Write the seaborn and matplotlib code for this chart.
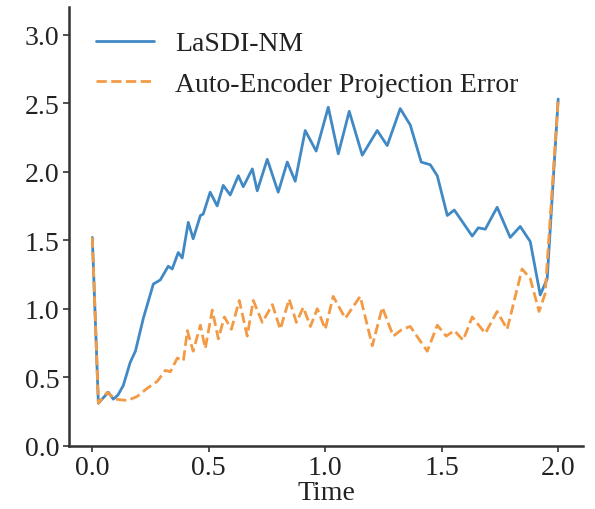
import matplotlib
matplotlib.use("Agg")
import matplotlib.pyplot as plt
import seaborn as sns
import numpy as np

# LaSDI-NM curve
t_nm = [0.0, 0.026, 0.047, 0.069, 0.09, 0.11, 0.133, 0.163, 0.185, 0.219, 0.262, 0.292,
        0.326, 0.343, 0.369, 0.386, 0.412, 0.433, 0.464, 0.476, 0.506, 0.536, 0.562, 0.592,
        0.627, 0.648, 0.687, 0.708, 0.751, 0.798, 0.837, 0.871, 0.914, 0.961, 1.013, 1.056,
        1.103, 1.159, 1.223, 1.266, 1.322, 1.365, 1.412, 1.451, 1.481, 1.524, 1.554, 1.631,
        1.657, 1.687, 1.738, 1.794, 1.837, 1.88, 1.923, 1.953, 2.0]
v_nm = [1.52, 0.31, 0.35, 0.39, 0.34, 0.37, 0.44, 0.61, 0.69, 0.93, 1.18, 1.21,
        1.31, 1.29, 1.41, 1.37, 1.63, 1.51, 1.68, 1.69, 1.85, 1.75, 1.90, 1.83,
        1.97, 1.89, 2.02, 1.86, 2.09, 1.85, 2.07, 1.93, 2.30, 2.15, 2.47, 2.13,
        2.44, 2.12, 2.30, 2.19, 2.46, 2.34, 2.07, 2.05, 1.97, 1.68, 1.72, 1.53,
        1.59, 1.58, 1.74, 1.52, 1.60, 1.49, 1.10, 1.22, 2.53]

# Auto-Encoder projection error curve
t_ae = [0.0, 0.026, 0.064, 0.099, 0.15, 0.193, 0.236, 0.279, 0.313, 0.335, 0.365, 0.391,
        0.408, 0.433, 0.464, 0.485, 0.515, 0.541, 0.567, 0.597, 0.631, 0.665, 0.691, 0.730,
        0.773, 0.807, 0.845, 0.876, 0.906, 0.936, 0.966, 1.0, 1.034, 1.086, 1.150, 1.202,
        1.245, 1.292, 1.330, 1.365, 1.438, 1.481, 1.519, 1.554, 1.592, 1.631, 1.687, 1.738,
        1.781, 1.845, 1.880, 1.918, 1.944, 2.0]
v_ae = [1.52, 0.31, 0.39, 0.34, 0.33, 0.36, 0.42, 0.47, 0.55, 0.54, 0.64, 0.62,
        0.84, 0.69, 0.88, 0.71, 0.99, 0.78, 0.94, 0.85, 1.06, 0.80, 1.06, 0.90,
        1.03, 0.85, 1.07, 0.90, 1.01, 0.87, 1.00, 0.85, 1.09, 0.93, 1.09, 0.73,
        1.01, 0.80, 0.85, 0.87, 0.69, 0.88, 0.80, 0.84, 0.77, 0.94, 0.82, 0.98,
        0.85, 1.29, 1.22, 0.98, 1.11, 2.53]

labels = ["LaSDI-NM", "Auto-Encoder Projection Error"]
x_ticks = [0.0, 0.5, 1.0, 1.5, 2.0]
y_ticks = [0.0, 0.5, 1.0, 1.5, 2.0, 2.5, 3.0]

sns.set_theme(style="ticks")
plt.rcParams['font.family'] = ['Liberation Serif', 'DejaVu Serif']

fig = plt.figure(figsize=(5.95, 5.1), dpi=100)
ax = fig.add_axes([0.116, 0.124, 0.864, 0.86])

sns.lineplot(x=t_nm, y=v_nm, ax=ax, color="#4189c5", linewidth=2.0, label=labels[0])
sns.lineplot(x=t_ae, y=v_ae, ax=ax, color="#f39a45", linewidth=2.0, linestyle="--",
             label=labels[1])

ax.set_xlim(-0.1, 2.107)
ax.set_ylim(0, 3.2)
ax.set_xticks(x_ticks)
ax.set_yticks(y_ticks)
ax.set_xticklabels([f"{v:.1f}" for v in x_ticks])
ax.set_yticklabels([f"{v:.1f}" for v in y_ticks])
ax.tick_params(labelsize=20, length=4, width=1.2, color="#333333", labelcolor="#222222", pad=3)
ax.set_xlabel("Time", fontsize=20, color="#222222", labelpad=0)
ax.set_ylabel("")
for s in ["left", "bottom"]:
    ax.spines[s].set_linewidth(1.8)
    ax.spines[s].set_color("#333333")
sns.despine(ax=ax)

leg = ax.legend(loc="upper left", frameon=False, fontsize=20, handlelength=2.1,
                handletextpad=0.75, labelspacing=0.55, bbox_to_anchor=(0.003, 1.003),
                labelcolor="#222222")

fig.savefig("out.png", dpi=100)
